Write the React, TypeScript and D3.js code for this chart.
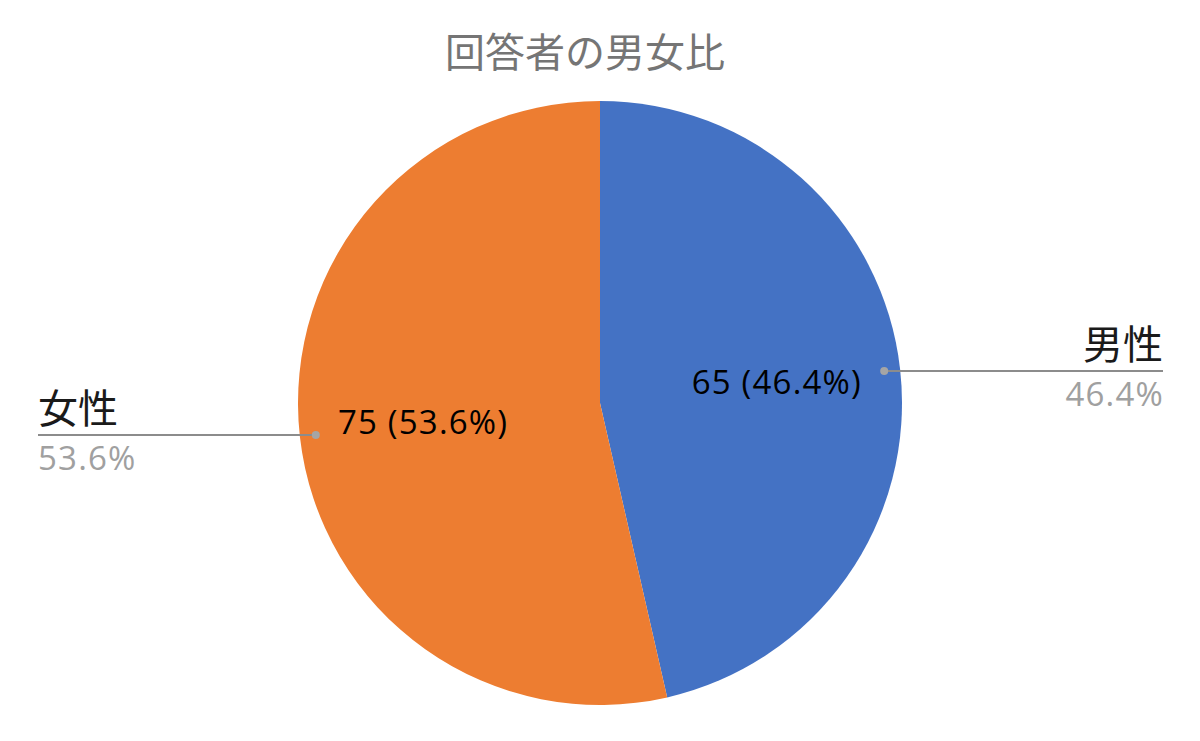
import * as d3 from "d3";
import { useEffect, useRef } from "react";

// -----------------------------
// DATA
// -----------------------------
const title = "回答者の男女比";
const categories = ["男性", "女性"];
const counts = [65, 75];
const sliceColors = ["#4472c4", "#ed7d31"];

export default function App() {
  const containerRef = useRef<HTMLDivElement>(null);

  useEffect(() => {
    if (!containerRef.current) return;
    const container = containerRef.current;
    container.innerHTML = "";
    document.body.style.margin = "0";

    const width = 1200;
    const height = 741;
    const cx = 600;
    const cy = 403;
    const radius = 302;
    const cjk = "'Noto Sans CJK JP', 'Noto Sans', sans-serif";
    const num = "'Open Sans', 'Noto Sans', sans-serif";

    const svg = d3
      .select(container)
      .append("svg")
      .attr("width", width)
      .attr("height", height)
      .style("display", "block")
      .style("background", "#ffffff");

    svg
      .append("text")
      .attr("x", 585)
      .attr("y", 67)
      .attr("text-anchor", "middle")
      .style("font-family", cjk)
      .style("font-size", "40px")
      .style("fill", "#757575")
      .text(title);

    const total = d3.sum(counts);
    const data = categories.map((c, i) => ({ name: c, value: counts[i], color: sliceColors[i] }));

    const pie = d3
      .pie<(typeof data)[number]>()
      .sort(null)
      .value((d) => d.value);
    const arcs = pie(data);

    const arc = d3.arc<d3.PieArcDatum<(typeof data)[number]>>().innerRadius(0).outerRadius(radius);
    const labelArc = d3.arc<d3.PieArcDatum<(typeof data)[number]>>().innerRadius(178).outerRadius(178);
    const dotArc = d3.arc<d3.PieArcDatum<(typeof data)[number]>>().innerRadius(286).outerRadius(286);

    const g = svg.append("g").attr("transform", `translate(${cx},${cy})`);

    g.selectAll("path")
      .data(arcs)
      .enter()
      .append("path")
      .attr("d", arc)
      .attr("fill", (d) => d.data.color);

    const pct = (v: number) => `${((v / total) * 100).toFixed(1)}%`;

    // inner labels
    g.selectAll("text.inner")
      .data(arcs)
      .enter()
      .append("text")
      .attr("class", "inner")
      .attr("x", (d) => labelArc.centroid(d)[0])
      .attr("y", (d) => labelArc.centroid(d)[1] + 11)
      .attr("text-anchor", "middle")
      .style("font-family", num)
      .style("font-size", "33px")
      .style("letter-spacing", "1.2px")
      .style("fill", "#000000")
      .text((d) => `${d.data.value} (${pct(d.data.value)})`);

    // outer leader labels
    arcs.forEach((d) => {
      const [px, py] = dotArc.centroid(d);
      const right = px > 0;
      const endX = right ? 1163 - cx : 38 - cx;

      g.append("line")
        .attr("x1", px)
        .attr("y1", py)
        .attr("x2", endX)
        .attr("y2", py)
        .attr("stroke", "#8c8c8c")
        .attr("stroke-width", 2);

      g.append("circle")
        .attr("cx", px)
        .attr("cy", py)
        .attr("r", 4)
        .attr("fill", "#a5a5a5");

      g.append("text")
        .attr("x", endX)
        .attr("y", py - 12)
        .attr("text-anchor", right ? "end" : "start")
        .style("font-family", cjk)
        .style("font-size", "40px")
        .style("fill", "#1a1a1a")
        .text(d.data.name);

      g.append("text")
        .attr("x", right ? endX + 1 : endX)
        .attr("y", py + 35)
        .attr("text-anchor", right ? "end" : "start")
        .style("font-family", num)
        .style("font-size", "33px")
        .style("letter-spacing", "1.2px")
        .style("fill", "#a0a0a0")
        .text(pct(d.data.value));
    });
  }, []);

  return <div ref={containerRef} style={{ width: 1200, height: 741 }} />;
}
